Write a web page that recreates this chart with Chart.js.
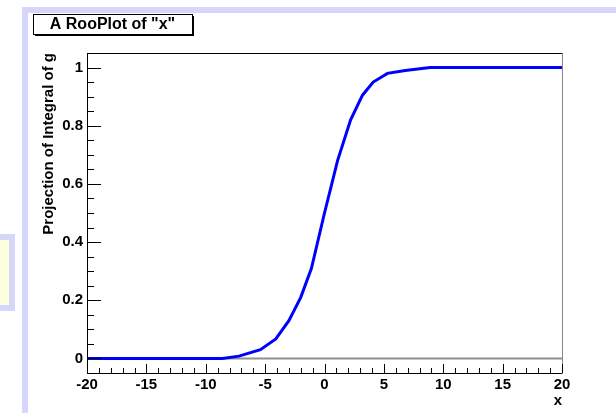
<!DOCTYPE html>
<html>
<head>
<meta charset="utf-8">
<script src="https://cdn.jsdelivr.net/npm/chart.js@4"></script>
<style>
  html, body { margin: 0; padding: 0; background: #fff; }
  #wrap { width: 616px; height: 413px; position: relative; }
</style>
</head>
<body>
<div id="wrap"><canvas id="chart1"></canvas></div>
<script>
// curve points
const xValues = [-20, -8.6, -7.2, -5.4, -4.1, -3.0, -2.0, -1.1, 0, 1.1, 2.2, 3.2, 4.1, 5.3, 6.8, 8.9, 20];
const yValues = [0, 0, 0.008, 0.03, 0.067, 0.13, 0.21, 0.31, 0.5, 0.68, 0.82, 0.905, 0.95, 0.98, 0.99, 1, 1];

const xTicks = [-20, -15, -10, -5, 0, 5, 10, 15, 20];
const yTicks = [0, 0.2, 0.4, 0.6, 0.8, 1];
const xMinorStep = 1;
const yMinorStep = 0.05;

const plotTitle = 'A RooPlot of "x"';
const xTitle = 'x';
const yTitle = 'Projection of Integral of g';

const FONT = 'Liberation Sans, Arial, sans-serif';
const LAVENDER = '#d6d6fa';

const decorations = {
    id: 'decorations',
    beforeDraw(chart) {
        const ctx = chart.ctx;
        ctx.save();
        ctx.fillStyle = '#fff';
        ctx.fillRect(0, 0, chart.width, chart.height);
        // pad frame
        ctx.fillStyle = LAVENDER;
        ctx.fillRect(22, 7, chart.width - 22, 6);
        ctx.fillRect(22, 7, 6, chart.height - 7);
        // little side box
        ctx.fillRect(0, 234, 15, 77);
        ctx.fillStyle = '#ffffe0';
        ctx.fillRect(0, 240, 9, 65);
        ctx.restore();
    },
    beforeDatasetsDraw(chart) {
        const ctx = chart.ctx;
        const a = chart.chartArea;
        const y0 = chart.scales.y.getPixelForValue(0);
        ctx.save();
        ctx.strokeStyle = '#909090';
        ctx.lineWidth = 2;
        ctx.beginPath();
        ctx.moveTo(a.left, Math.round(y0) + 0.5);
        ctx.lineTo(a.right, Math.round(y0) + 0.5);
        ctx.stroke();
        ctx.restore();
    },
    afterDraw(chart) {
        const ctx = chart.ctx;
        const a = chart.chartArea;
        const xs = chart.scales.x, ys = chart.scales.y;
        ctx.save();
        ctx.lineWidth = 1;
        // frame
        ctx.strokeStyle = '#000';
        ctx.beginPath();
        ctx.moveTo(a.right, a.top + 0.5);
        ctx.lineTo(a.left + 0.5, a.top + 0.5);
        ctx.lineTo(a.left + 0.5, a.bottom + 0.5);
        ctx.lineTo(a.right, a.bottom + 0.5);
        ctx.stroke();
        ctx.strokeStyle = '#888';
        ctx.beginPath();
        ctx.moveTo(a.right + 0.5, a.top);
        ctx.lineTo(a.right + 0.5, a.bottom + 1);
        ctx.stroke();
        // ticks
        ctx.strokeStyle = '#000';
        ctx.beginPath();
        for (let v = ys.min; v <= ys.max + 1e-9; v += yMinorStep) {
            const major = yTicks.some(t => Math.abs(t - v) < 1e-6);
            const py = Math.round(ys.getPixelForValue(v)) + 0.5;
            ctx.moveTo(a.left, py);
            ctx.lineTo(a.left + (major ? 14 : 7), py);
        }
        for (let v = xs.min; v <= xs.max + 1e-9; v += xMinorStep) {
            const major = xTicks.some(t => Math.abs(t - v) < 1e-6);
            const px = Math.round(xs.getPixelForValue(v)) + 0.5;
            ctx.moveTo(px, a.bottom);
            ctx.lineTo(px, a.bottom - (major ? 9 : 5));
        }
        ctx.stroke();
        // title box with shadow
        const bx = 33, by = 14, bw = 159, bh = 20;
        ctx.fillStyle = '#000';
        ctx.fillRect(bx + 2, by + bh, bw, 2);
        ctx.fillRect(bx + bw, by + 2, 2, bh);
        ctx.fillStyle = '#fff';
        ctx.fillRect(bx, by, bw, bh);
        ctx.strokeStyle = '#000';
        ctx.strokeRect(bx + 0.5, by + 0.5, bw, bh);
        ctx.fillStyle = '#000';
        ctx.font = 'bold 16px ' + FONT;
        ctx.textAlign = 'center';
        ctx.textBaseline = 'middle';
        ctx.fillText(plotTitle, bx + bw / 2, by + bh / 2 + 1);
        ctx.restore();
    }
};

const ctx = document.getElementById('chart1').getContext('2d');
const chart1 = new Chart(ctx, {
    type: 'line',
    data: {
        datasets: [{
            data: xValues.map((x, i) => ({ x: x, y: yValues[i] })),
            borderColor: '#0000ff',
            borderWidth: 3,
            pointRadius: 0,
            tension: 0,
            fill: false
        }]
    },
    options: {
        responsive: true,
        maintainAspectRatio: false,
        animation: false,
        layout: { padding: { left: 0, top: 53, right: 54, bottom: 0 } },
        plugins: {
            legend: { display: false },
            tooltip: { enabled: false }
        },
        scales: {
            x: {
                type: 'linear',
                min: -20,
                max: 20,
                grid: { display: false, drawTicks: false },
                border: { display: false },
                afterBuildTicks: scale => { scale.ticks = xTicks.map(v => ({ value: v })); },
                afterFit: scale => { scale.height = 40; },
                ticks: {
                    autoSkip: false,
                    maxRotation: 0,
                    padding: 3,
                    color: '#000',
                    font: { family: FONT, size: 15, weight: 'bold' },
                    callback: v => String(v)
                },
                title: {
                    display: true,
                    text: xTitle,
                    align: 'end',
                    color: '#000',
                    padding: { top: 0, bottom: 3 },
                    font: { family: FONT, size: 15, weight: 'bold' }
                }
            },
            y: {
                min: -0.05,
                max: 1.05,
                grid: { display: false, drawTicks: false },
                border: { display: false },
                afterBuildTicks: scale => { scale.ticks = yTicks.map(v => ({ value: v })); },
                afterFit: scale => { scale.width = 87; },
                ticks: {
                    autoSkip: false,
                    padding: 4,
                    color: '#000',
                    font: { family: FONT, size: 15, weight: 'bold' },
                    callback: v => String(Math.round(v * 10) / 10)
                },
                title: {
                    display: true,
                    text: yTitle,
                    align: 'end',
                    color: '#000',
                    padding: { top: 40, bottom: 0 },
                    font: { family: FONT, size: 15, weight: 'bold' }
                }
            }
        }
    },
    plugins: [decorations]
});
</script>
</body>
</html>
